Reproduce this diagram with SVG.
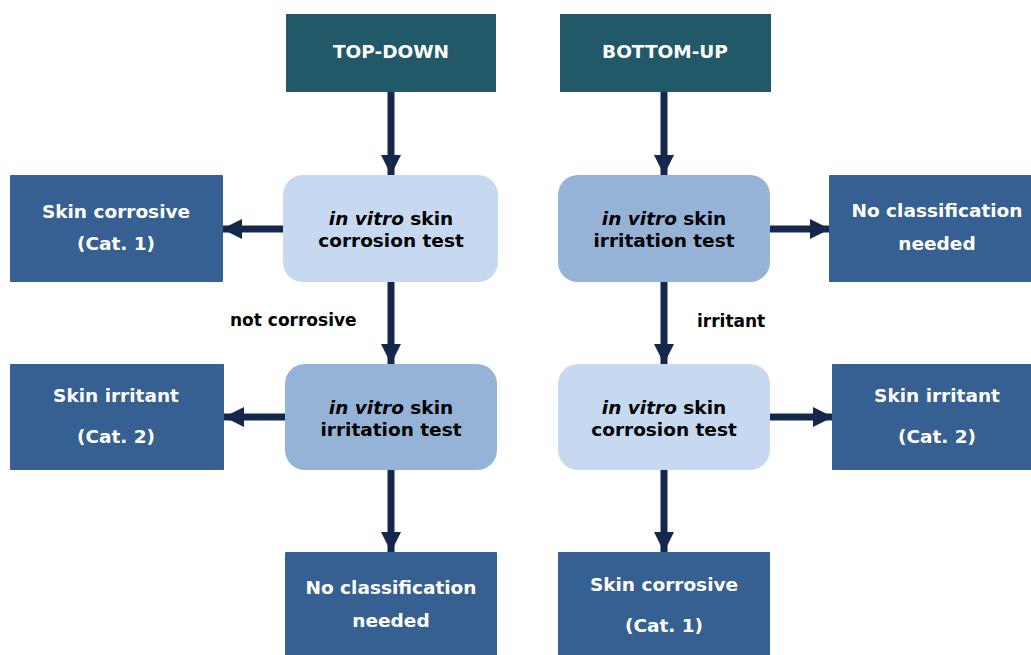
<svg xmlns="http://www.w3.org/2000/svg" width="1031" height="655" viewBox="0 0 1031 655">
<style>
.hd{fill:#215968}
.res{fill:#366092}
.lt{fill:#C6D9F1}
.md{fill:#95B3D7}
text{font-family:"DejaVu Sans",Verdana,sans-serif;font-weight:bold;text-anchor:middle}
.w{fill:#FFFFFF;font-size:18.5px}
.b{fill:#000000;font-size:18.5px}
.lab{fill:#000000;font-size:17px;text-anchor:start}
.c{stroke:#14284B;stroke-width:7;fill:none}
</style>
<defs>
<marker id="ah" markerUnits="userSpaceOnUse" markerWidth="22" markerHeight="22" refX="20" refY="10" orient="auto">
<path d="M0,0 L20,10 L0,20 Z" fill="#14284B"/>
</marker>
</defs>
<rect width="1031" height="655" fill="#FFFFFF"/>
<g id="connectors">
<line class="c" x1="391" y1="92" x2="391" y2="175" marker-end="url(#ah)"/>
<line class="c" x1="283" y1="229" x2="222" y2="229" marker-end="url(#ah)"/>
<line class="c" x1="391" y1="282" x2="391" y2="364" marker-end="url(#ah)"/>
<line class="c" x1="285" y1="417" x2="224" y2="417" marker-end="url(#ah)"/>
<line class="c" x1="391" y1="470" x2="391" y2="552" marker-end="url(#ah)"/>
<line class="c" x1="664" y1="92" x2="664" y2="175" marker-end="url(#ah)"/>
<line class="c" x1="770" y1="229" x2="830" y2="229" marker-end="url(#ah)"/>
<line class="c" x1="664" y1="282" x2="664" y2="364" marker-end="url(#ah)"/>
<line class="c" x1="770" y1="417" x2="833" y2="417" marker-end="url(#ah)"/>
<line class="c" x1="664" y1="470" x2="664" y2="552" marker-end="url(#ah)"/>
<text class="lab" x="230" y="326">not corrosive</text>
<text class="lab" x="697" y="327">irritant</text>
</g>
<g id="topdown">
<rect class="hd" x="286" y="14" width="210" height="78"/>
<text class="w" x="391" y="58" style="font-size:18.5px">TOP-DOWN</text>
</g>
<g id="bottomup">
<rect class="hd" x="560" y="14" width="211" height="78"/>
<text class="w" x="665" y="58">BOTTOM-UP</text>
</g>
<g id="td-corrosion">
<rect class="lt" x="283" y="175" width="215" height="107" rx="20"/>
<text class="b" x="391" y="225"><tspan font-style="italic">in vitro</tspan> skin</text>
<text class="b" x="391" y="247">corrosion test</text>
</g>
<g id="td-corrosive">
<rect class="res" x="10" y="175" width="213" height="107" rx="1"/>
<text class="w" x="116" y="218">Skin corrosive</text>
<text class="w" x="116" y="250">(Cat. 1)</text>
</g>
<g id="td-irritation">
<rect class="md" x="285" y="364" width="212" height="106" rx="20"/>
<text class="b" x="391" y="414"><tspan font-style="italic">in vitro</tspan> skin</text>
<text class="b" x="391" y="436">irritation test</text>
</g>
<g id="td-irritant">
<rect class="res" x="10" y="364" width="214" height="106" rx="1"/>
<text class="w" x="116" y="402">Skin irritant</text>
<text class="w" x="116" y="443">(Cat. 2)</text>
</g>
<g id="td-noclass">
<rect class="res" x="285" y="552" width="212" height="110" rx="1"/>
<text class="w" x="391" y="594">No classification</text>
<text class="w" x="391" y="627">needed</text>
</g>
<g id="bu-irritation">
<rect class="md" x="558" y="175" width="212" height="107" rx="20"/>
<text class="b" x="664" y="225"><tspan font-style="italic">in vitro</tspan> skin</text>
<text class="b" x="664" y="247">irritation test</text>
</g>
<g id="bu-noclass">
<rect class="res" x="829" y="175" width="215" height="107" rx="1"/>
<text class="w" x="937" y="217">No classification</text>
<text class="w" x="937" y="250">needed</text>
</g>
<g id="bu-corrosion">
<rect class="lt" x="558" y="364" width="212" height="106" rx="20"/>
<text class="b" x="664" y="414"><tspan font-style="italic">in vitro</tspan> skin</text>
<text class="b" x="664" y="436">corrosion test</text>
</g>
<g id="bu-irritant">
<rect class="res" x="832" y="364" width="212" height="106" rx="1"/>
<text class="w" x="937" y="402">Skin irritant</text>
<text class="w" x="937" y="443">(Cat. 2)</text>
</g>
<g id="bu-corrosive">
<rect class="res" x="558" y="552" width="212" height="110" rx="1"/>
<text class="w" x="664" y="591">Skin corrosive</text>
<text class="w" x="664" y="632">(Cat. 1)</text>
</g>
</svg>
